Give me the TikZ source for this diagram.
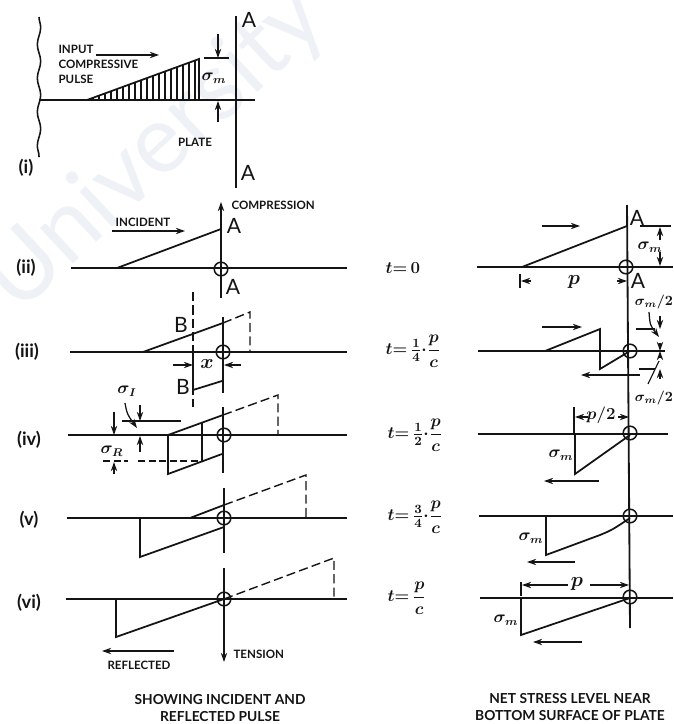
\documentclass[tikz,border=0pt]{standalone}
\usepackage{amsmath}
\usepackage{fontspec}
\setmainfont{Lato}
\usepackage{xcolor}
\usetikzlibrary{arrows.meta,positioning,decorations.pathmorphing}
\definecolor{plateInk}{HTML}{141414}
\definecolor{plateMark}{HTML}{EEF1F6}
\tikzset{
    every picture/.style={>=stealth, thick},
    wall/.style={draw=plateInk, line width=1.3pt},
    wavy/.style={draw=plateInk, line width=1.1pt, decorate, decoration={snake, amplitude=1.2pt, segment length=24pt}},
    pulse/.style={draw=plateInk, line width=1.25pt, line join=miter},
    ghost/.style={draw=plateInk, line width=1pt, dash pattern=on 6.5pt off 3pt},
    thinghost/.style={draw=plateInk, line width=0.8pt, dash pattern=on 5pt off 2.5pt},
    thinline/.style={draw=plateInk, line width=0.8pt},
    arrow/.style={->, draw=plateInk, line width=0.9pt, >={Stealth[length=6.5pt,width=4.5pt]}},
    joint/.style={circle, draw=plateInk, line width=1.1pt, minimum size=0.34cm, inner sep=0pt},
    tag/.style={font=\bfseries\fontsize{8.2}{10.7}\selectfont, text=plateInk, align=left, inner sep=0pt},
    caption/.style={font=\bfseries\fontsize{9.8}{12}\selectfont, text=plateInk, align=center, inner sep=0pt},
    letter/.style={font=\fontsize{15}{15}\selectfont, text=plateInk, inner sep=0pt},
    rownum/.style={font=\bfseries\fontsize{13}{13}\selectfont, text=plateInk, inner sep=0pt},
    symb/.style={font=\fontsize{12}{12}\selectfont\boldmath, text=plateInk, inner sep=0pt},
    smallsymb/.style={font=\fontsize{10}{11}\selectfont\boldmath, text=plateInk, inner sep=0pt},
    bigsymb/.style={font=\fontsize{14}{14}\selectfont\boldmath, text=plateInk, inner sep=0pt},
    timelabel/.style={font=\fontsize{13}{13}\selectfont\boldmath, text=plateInk, anchor=west, inner sep=0pt}
}

\begin{document}
\begin{tikzpicture}[x=0.025cm, y=-0.025cm]

    \useasboundingbox (0,0) rectangle (674,724);

    % Faint mark behind the drawing
    \node[font=\fontsize{68}{68}\selectfont, text=plateMark, rotate=43, anchor=base west, inner sep=0pt] (mark) at (18,316) {University};

    % Row labels
    \foreach \rname/\rtext/\rx/\ry in {ri/(i)/26/168, rii/(ii)/26/268, riii/(iii)/27/352, riv/(iv)/29/440, rv/(v)/29/520, rvi/(vi)/29/603}
        \node[rownum] (\rname) at (\rx,\ry) {\rtext};

    % Row (i), input pulse on the plate
    \draw[wavy] (39,17) -- (39,157);
    \draw[wall] (39,100) -- (255,100);
    \draw[wall] (236,16) -- (236,188);
    \draw[pulse] (87,100) -- (199,59) -- (199,100);
    \foreach \hx in {93,99,...,195}
        \draw[thinline] (\hx,100) -- (\hx,{100-(\hx-87)*0.366});
    \draw[thinline] (204,58) -- (229,58);
    \draw[arrow] (218,34) -- (218,58);
    \draw[arrow] (218,122) -- (218,101);
    \draw[arrow] (96,55) -- (159,55);
    \node[tag, anchor=north west] (inputtag) at (58,45) {INPUT\\COMPRESSIVE\\PULSE};
    \node[tag] (platetag) at (195,142) {PLATE};
    \node[symb] (sigi) at (214,78) {$\sigma_m$};
    \node[letter] (ai) at (249,20) {A};
    \node[letter] (aii) at (248,173) {A};

    % Left column, incident and reflected pulse
    \foreach \bx/\by in {71/268, 70/352, 68/435, 67/518, 66/599}
        \draw[wall] (\bx,\by) -- (347,\by);
    \node[joint] (jii) at (221,269) {};
    \node[joint] (jiii) at (223,352) {};
    \node[joint] (jiv) at (224,435) {};
    \node[joint] (jv) at (224,518) {};
    \node[joint] (jvi) at (224,599) {};

    % Row (ii)
    \draw[arrow] (221,298) -- (221,202);
    \draw[pulse] (117,268) -- (221,229);
    \draw[arrow] (112,231) -- (185,231);
    \node[tag] (incident) at (143,222) {INCIDENT};
    \node[tag, anchor=west] (compress) at (231,205) {COMPRESSION};
    \node[letter] (aiii) at (234,226) {A};
    \node[letter] (aiv) at (233,287) {A};

    % Row (iii)
    \draw[wall] (223,317) -- (223,393);
    \draw[ghost] (193,292) -- (193,407);
    \draw[pulse] (143,352) -- (223,323);
    \draw[ghost] (223,323) -- (250,312) -- (250,352);
    \draw[pulse] (193,352) -- (193,390) -- (222,381);
    \draw[arrow] (173,365) -- (193,365);
    \draw[arrow] (241,365) -- (224,365);
    \node[letter] (bi) at (181,325) {B};
    \node[letter] (bii) at (183,387) {B};
    \node[bigsymb] (xlen) at (207,364) {$x$};

    % Row (iv)
    \draw[wall] (223,407) -- (223,473);
    \draw[pulse] (168,435) -- (223,415);
    \draw[ghost] (223,415) -- (278,395) -- (278,435);
    \draw[pulse] (202,423) -- (202,462);
    \draw[pulse] (168,435) -- (168,474) -- (222,454);
    \draw[thinline] (122,421) -- (181,421);
    \draw[thinghost] (103,461) -- (128,461);
    \draw[thinghost] (138,461) -- (202,461);
    \draw[arrow] (140,405) -- (140,421);
    \draw[arrow] (140,452) -- (140,436);
    \draw[arrow] (114,412) -- (114,435);
    \draw[arrow] (114,474) -- (114,462);
    \draw[arrow] (125,403) .. controls (127,414) .. (137,428);
    \node[symb] (sigii) at (127,391) {$\sigma_I$};
    \node[symb] (sigiii) at (112,451) {$\sigma_R$};

    % Row (v)
    \draw[wall] (224,488) -- (224,553);
    \draw[pulse] (190,518) -- (224,505);
    \draw[ghost] (224,505) -- (306,475) -- (306,518);
    \draw[pulse] (140,518) -- (140,557) -- (224,527);

    % Row (vi)
    \draw[arrow] (224,568) -- (224,662);
    \draw[ghost] (224,599) -- (334,558) -- (334,599);
    \draw[pulse] (116,599) -- (116,637) -- (224,599);
    \draw[arrow] (174,651) -- (102,651);
    \node[tag] (reflected) at (139,665) {REFLECTED};
    \node[tag, anchor=west] (tension) at (233,654) {TENSION};
    \node[caption] (leftcap) at (220,708) {SHOWING INCIDENT AND\\REFLECTED PULSE};

    % Time labels between the columns
    \node[timelabel] (ti) at (385,268) {$t{=}\,0$};
    \node[timelabel] (tii) at (385,351) {$t{=}\,\frac14{\cdot}\dfrac{p}{c}$};
    \node[timelabel] (tiii) at (387,435) {$t{=}\,\frac12{\cdot}\dfrac{p}{c}$};
    \node[timelabel] (tiv) at (387,517) {$t{=}\,\frac34{\cdot}\dfrac{p}{c}$};
    \node[timelabel] (tv) at (387,598) {$t{=}\,\dfrac{p}{c}$};

    % Right column, net stress level
    \draw[wall] (627,205) -- (630,628);
    \foreach \bx/\ex/\by in {477/673/267, 478/665/351, 478/668/434, 479/673/516, 480/673/598}
        \draw[wall] (\bx,\by) -- (\ex,\by);
    \node[joint] (ki) at (626,267) {};
    \node[joint] (kii) at (630,351) {};
    \node[joint] (kiii) at (630,433) {};
    \node[joint] (kiv) at (630,516) {};
    \node[joint] (kv) at (630,597) {};

    % Right (ii)
    \draw[pulse] (522,267) -- (627,226);
    \draw[arrow] (542,226) -- (580,226);
    \draw[thinline] (640,226) -- (671,226);
    \draw[arrow] (660,240) -- (660,227);
    \draw[arrow] (660,252) -- (660,266);
    \draw[thinline] (520,274) -- (520,288);
    \draw[arrow] (531,281) -- (521,281);
    \draw[arrow] (617,281) -- (627,281);
    \node[symb] (sigiv) at (650,247) {$\sigma_m$};
    \node[bigsymb] (pi) at (574,282) {$p$};
    \node[letter] (av) at (637,218) {A};
    \node[letter] (avi) at (638,281) {A};

    % Right (iii)
    \draw[pulse] (545,351) -- (600,329) -- (600,369) -- (630,351);
    \draw[arrow] (542,327) -- (582,327);
    \draw[arrow] (640,375) -- (581,375);
    \draw[thinline] (636,329) -- (655,329);
    \draw[thinline] (639,369) -- (655,369);
    \draw[arrow] (660,316) -- (660,329);
    \draw[arrow] (649,312) .. controls (650,325) .. (659,337);
    \draw[arrow] (660,343) -- (660,351);
    \draw[arrow] (660,358) -- (660,351);
    \draw[arrow] (660,379) -- (660,369);
    \draw[thinline] (659,361) -- (648,384);
    \node[smallsymb] (sigv) at (654,302) {$\sigma_m/2$};
    \node[smallsymb] (sigvi) at (654,398) {$\sigma_m/2$};

    % Right (iv)
    \draw[pulse] (575,433) -- (575,474) -- (630,435);
    \draw[arrow] (599,481) -- (544,481);
    \draw[thinline] (574,407) -- (574,433);
    \draw[arrow] (588,417) -- (575,417);
    \draw[arrow] (618,417) -- (629,417);
    \node[symb] (pii) at (601,415) {$p/2$};
    \node[symb] (sigvii) at (561,455) {$\sigma_m$};

    % Right (v)
    \draw[pulse] (546,517) -- (546,555) -- (600,535) .. controls (612,530) .. (630,518);
    \draw[arrow] (575,562) -- (527,562);
    \node[symb] (sigviii) at (531,538) {$\sigma_m$};

    % Right (vi)
    \draw[pulse] (521,598) -- (521,635) -- (630,598);
    \draw[thinline] (521,582) -- (521,596);
    \draw[arrow] (568,585) -- (522,585);
    \draw[arrow] (590,585) -- (629,585);
    \draw[arrow] (582,642) -- (533,642);
    \node[bigsymb] (pv) at (577,584) {$p$};
    \node[symb] (sigix) at (506,620) {$\sigma_m$};
    \node[caption] (rightcap) at (570,707) {NET STRESS LEVEL NEAR\\BOTTOM SURFACE OF PLATE};

\end{tikzpicture}
\end{document}
